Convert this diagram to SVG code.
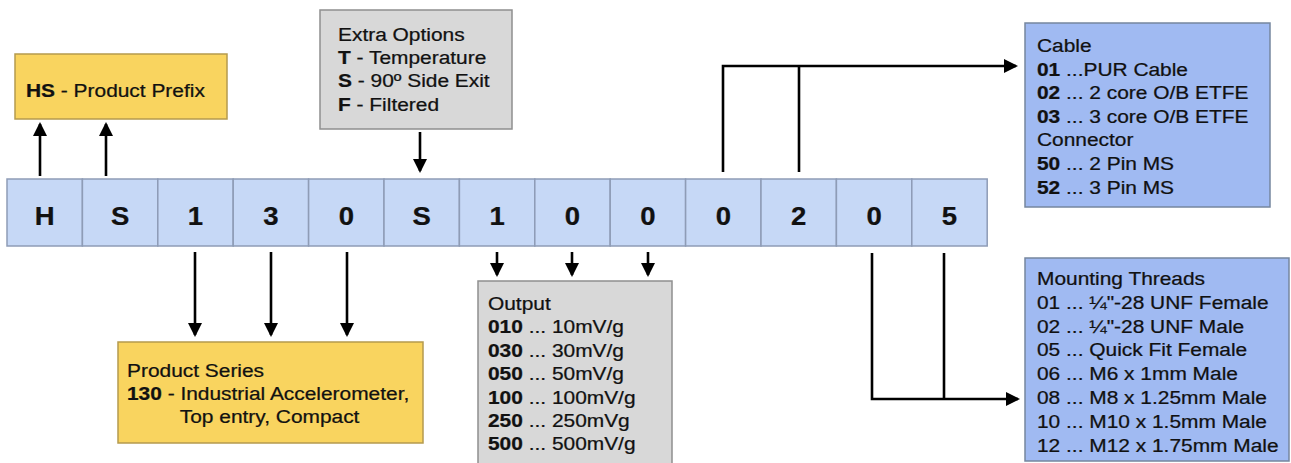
<svg xmlns="http://www.w3.org/2000/svg" width="1291" height="463" viewBox="0 0 1291 463">
<defs>
<style>
text{font-family:"Liberation Sans",Arial,Helvetica,sans-serif;font-size:19px;fill:#111;stroke:#111;stroke-width:0.25;}
.b{font-weight:bold;}
.cell{fill:#c6d8f6;stroke:#8e9cb6;stroke-width:1.5;}
.cl{font-weight:bold;font-size:25px;text-anchor:middle;}
.orange{fill:#f9d45f;stroke:#b59a4e;stroke-width:1.5;}
.gray{fill:#d8d8d8;stroke:#8f8f8f;stroke-width:1.5;}
.blue{fill:#a0baf2;stroke:#76869f;stroke-width:1.5;}
.con{fill:none;stroke:#000;stroke-width:2.6;}
</style>
<marker id="ah" markerUnits="userSpaceOnUse" markerWidth="16" markerHeight="16" refX="12" refY="7" orient="auto"><path d="M0,0 L14,7 L0,14 z" fill="#000"/></marker>
</defs>

<g id="code-bar">
<rect class="cell" x="7" y="179" width="75.4" height="67"/>
<rect class="cell" x="82.4" y="179" width="75.4" height="67"/>
<rect class="cell" x="157.8" y="179" width="75.4" height="67"/>
<rect class="cell" x="233.2" y="179" width="75.4" height="67"/>
<rect class="cell" x="308.6" y="179" width="75.4" height="67"/>
<rect class="cell" x="384" y="179" width="75.4" height="67"/>
<rect class="cell" x="459.4" y="179" width="75.4" height="67"/>
<rect class="cell" x="534.8" y="179" width="75.4" height="67"/>
<rect class="cell" x="610.2" y="179" width="75.4" height="67"/>
<rect class="cell" x="685.6" y="179" width="75.4" height="67"/>
<rect class="cell" x="761" y="179" width="75.4" height="67"/>
<rect class="cell" x="836.4" y="179" width="75.4" height="67"/>
<rect class="cell" x="911.8" y="179" width="75.4" height="67"/>
<text class="cl" transform="translate(44.7,225) scale(1.1 1)">H</text>
<text class="cl" transform="translate(120.1,225) scale(1.1 1)">S</text>
<text class="cl" transform="translate(195.5,225) scale(1.1 1)">1</text>
<text class="cl" transform="translate(270.9,225) scale(1.1 1)">3</text>
<text class="cl" transform="translate(346.3,225) scale(1.1 1)">0</text>
<text class="cl" transform="translate(421.7,225) scale(1.1 1)">S</text>
<text class="cl" transform="translate(497.1,225) scale(1.1 1)">1</text>
<text class="cl" transform="translate(572.5,225) scale(1.1 1)">0</text>
<text class="cl" transform="translate(647.9,225) scale(1.1 1)">0</text>
<text class="cl" transform="translate(723.3,225) scale(1.1 1)">0</text>
<text class="cl" transform="translate(798.7,225) scale(1.1 1)">2</text>
<text class="cl" transform="translate(874.1,225) scale(1.1 1)">0</text>
<text class="cl" transform="translate(949.5,225) scale(1.1 1)">5</text>
</g>

<g id="product-prefix">
<rect class="orange" x="15" y="54" width="212" height="65"/>
<text transform="translate(26,97) scale(1.1 1)"><tspan class="b">HS</tspan> - Product Prefix</text>
</g>

<g id="extra-options">
<rect class="gray" x="320" y="10" width="192" height="119"/>
<text transform="translate(338,41) scale(1.1 1)">
<tspan x="0" y="0">Extra Options</tspan>
<tspan x="0" y="23.2"><tspan class="b">T</tspan> - Temperature</tspan>
<tspan x="0" y="46.4"><tspan class="b">S</tspan> - 90º Side Exit</tspan>
<tspan x="0" y="69.6"><tspan class="b">F</tspan> - Filtered</tspan>
</text>
</g>

<g id="product-series">
<rect class="orange" x="118" y="342" width="305" height="101"/>
<text transform="translate(127,377) scale(1.1 1)">
<tspan x="0" y="0">Product Series</tspan>
<tspan x="0" y="22.8"><tspan class="b">130</tspan> - Industrial Accelerometer,</tspan>
<tspan x="48" y="45.6">Top entry, Compact</tspan>
</text>
</g>

<g id="output">
<rect class="gray" x="478" y="281" width="194" height="190"/>
<text transform="translate(488,310) scale(1.1 1)">
<tspan x="0" y="0">Output</tspan>
<tspan x="0" y="23.4"><tspan class="b">010</tspan> ... 10mV/g</tspan>
<tspan x="0" y="46.8"><tspan class="b">030</tspan> ... 30mV/g</tspan>
<tspan x="0" y="70.2"><tspan class="b">050</tspan> ... 50mV/g</tspan>
<tspan x="0" y="93.6"><tspan class="b">100</tspan> ... 100mV/g</tspan>
<tspan x="0" y="117"><tspan class="b">250</tspan> ... 250mVg</tspan>
<tspan x="0" y="140.4"><tspan class="b">500</tspan> ... 500mV/g</tspan>
</text>
</g>

<g id="cable">
<rect class="blue" x="1025" y="23" width="245" height="184"/>
<text transform="translate(1037,52) scale(1.1 1)">
<tspan x="0" y="0">Cable</tspan>
<tspan x="0" y="23.6"><tspan class="b">01</tspan> ...PUR Cable</tspan>
<tspan x="0" y="47.2"><tspan class="b">02</tspan> ... 2 core O/B ETFE</tspan>
<tspan x="0" y="70.8"><tspan class="b">03</tspan> ... 3 core O/B ETFE</tspan>
<tspan x="0" y="94.4">Connector</tspan>
<tspan x="0" y="118"><tspan class="b">50</tspan> ... 2 Pin MS</tspan>
<tspan x="0" y="141.6"><tspan class="b">52</tspan> ... 3 Pin MS</tspan>
</text>
</g>

<g id="mounting-threads">
<rect class="blue" x="1025" y="258" width="264" height="203"/>
<text transform="translate(1037,285) scale(1.1 1)">
<tspan x="0" y="0">Mounting Threads</tspan>
<tspan x="0" y="23.8">01 ... ¼"-28 UNF Female</tspan>
<tspan x="0" y="47.6">02 ... ¼"-28 UNF Male</tspan>
<tspan x="0" y="71.4">05 ... Quick Fit Female</tspan>
<tspan x="0" y="95.2">06 ... M6 x 1mm Male</tspan>
<tspan x="0" y="119">08 ... M8 x 1.25mm Male</tspan>
<tspan x="0" y="142.8">10 ... M10 x 1.5mm Male</tspan>
<tspan x="0" y="166.6">12 ... M12 x 1.75mm Male</tspan>
</text>
</g>

<g id="connectors">
<path class="con" d="M40,176 V124" marker-end="url(#ah)"/>
<path class="con" d="M106,176 V124" marker-end="url(#ah)"/>
<path class="con" d="M420,132 V171" marker-end="url(#ah)"/>
<path class="con" d="M195,252 V335" marker-end="url(#ah)"/>
<path class="con" d="M271,252 V335" marker-end="url(#ah)"/>
<path class="con" d="M347,252 V335" marker-end="url(#ah)"/>
<path class="con" d="M497,252 V275" marker-end="url(#ah)"/>
<path class="con" d="M572,252 V275" marker-end="url(#ah)"/>
<path class="con" d="M648,252 V275" marker-end="url(#ah)"/>
<path class="con" d="M723,172 V66 H1016" marker-end="url(#ah)"/>
<path class="con" d="M799,172 V66"/>
<path class="con" d="M872,253 V399 H1018" marker-end="url(#ah)"/>
<path class="con" d="M944,253 V399"/>
</g>
</svg>
